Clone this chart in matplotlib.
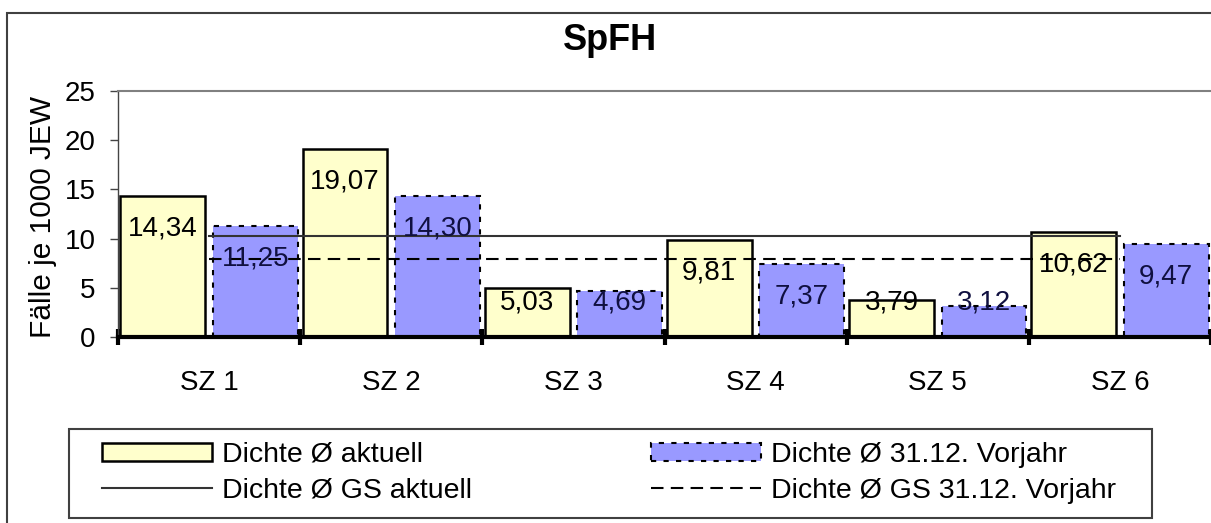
import matplotlib
matplotlib.use("Agg")
import matplotlib.pyplot as plt
from matplotlib.patches import Rectangle
from matplotlib.lines import Line2D
import numpy as np

plt.rcParams['font.family'] = ['Liberation Sans', 'DejaVu Sans']

# ---- data ----
categories = ["SZ 1", "SZ 2", "SZ 3", "SZ 4", "SZ 5", "SZ 6"]
dichte_aktuell = [14.34, 19.07, 5.03, 9.81, 3.79, 10.62]
dichte_vorjahr = [11.25, 14.30, 4.69, 7.37, 3.12, 9.47]
gs_aktuell = [10.30] * 6
gs_vorjahr = [7.92] * 6
yticks = [0, 5, 10, 15, 20, 25]
title = "SpFH"
ylabel = "Fälle je 1000 JEW"
legend_labels = ["Dichte Ø aktuell", "Dichte Ø GS aktuell",
                 "Dichte Ø 31.12. Vorjahr", "Dichte Ø GS 31.12. Vorjahr"]

W, H = 1211, 523
fig = plt.figure(figsize=(W / 100, H / 100), dpi=100)
fig.patch.set_facecolor("white")

ax = fig.add_axes([118 / W, 1 - 337 / H, 1 - 118 / W, (337 - 91) / H])

n = len(categories)
centers = np.arange(n) + 0.5
bw = 0.465
off = 0.254

yellow = "#FFFFCC"
blue = "#9999FF"

ax.bar(centers - off, dichte_aktuell, width=bw, color=yellow,
       edgecolor="black", linewidth=1.8, zorder=2)
ax.bar(centers + off, dichte_vorjahr, width=bw, color=blue,
       edgecolor="black", linewidth=1.5, linestyle=(0, (2.5, 3.5)), zorder=2)

ax.plot(centers, gs_aktuell, color="#333333", linewidth=1.5, zorder=3)
ax.plot(centers, gs_vorjahr, color="black", linewidth=1.5,
        linestyle=(0, (6, 3.5)), zorder=3)

def fmt(v):
    return f"{v:.2f}".replace(".", ",")

for x, v in zip(centers - off, dichte_aktuell):
    ax.text(x, max(v - 3.3, 3.55), fmt(v), ha="center", va="center",
            fontsize=20, color="black", zorder=4)
for x, v in zip(centers + off, dichte_vorjahr):
    ax.text(x, max(v - 3.3, 3.55), fmt(v), ha="center", va="center",
            fontsize=20, color="#101040", zorder=4)

ax.set_xlim(0, n)
ax.set_ylim(0, 25)

ax.set_yticks(yticks)
ax.set_yticklabels([str(t) for t in yticks])
ax.tick_params(axis="y", direction="out", length=6, width=1,
               color="#444444", labelsize=20, pad=10)

ax.set_xticks(np.arange(n + 1))
ax.set_xticklabels([])
ax.tick_params(axis="x", which="major", direction="inout", length=12,
               width=3, color="black")
ax.set_xticks(centers, minor=True)
ax.set_xticklabels(categories, minor=True)
ax.tick_params(axis="x", which="minor", length=0, labelsize=20, pad=24)

ax.spines["right"].set_visible(False)
ax.spines["top"].set_color("#808080")
ax.spines["top"].set_linewidth(1.5)
ax.spines["left"].set_color("#444444")
ax.spines["left"].set_linewidth(1)
ax.spines["bottom"].set_color("black")
ax.spines["bottom"].set_linewidth(3)
ax.spines["bottom"].set_zorder(5)

# title & y label
fig.text(610 / W, 1 - 41 / H, title, ha="center", va="center",
         fontsize=26, fontweight="bold")
fig.text(43 / W, 1 - 217 / H, ylabel, ha="center", va="center",
         rotation=90, fontsize=21.5)

# outer border
fig.add_artist(Rectangle((7 / W, -0.1), 1.2, (H - 13) / H + 0.1,
                         transform=fig.transFigure, fill=False,
                         edgecolor="#404040", linewidth=1.5))

# legend frame
fig.add_artist(Rectangle((69 / W, 1 - 518 / H), (1152 - 69) / W, (518 - 429) / H,
                         transform=fig.transFigure, fill=False,
                         edgecolor="#404040", linewidth=1.5))

h1 = Rectangle((0, 0), 1, 1, facecolor=yellow, edgecolor="black", linewidth=1.8)
h2 = Line2D([], [], color="#333333", linewidth=1.5)
h3 = Rectangle((0, 0), 1, 1, facecolor=blue, edgecolor="black", linewidth=1.5,
               linestyle=(0, (2.5, 3.5)))
h4 = Line2D([], [], color="black", linewidth=1.5, linestyle=(0, (6, 3.5)))

fs_leg = 20.5
fig.legend([h1, h2, h3, h4], legend_labels, ncol=2, frameon=False,
           loc="upper left", bbox_to_anchor=(102 / W, 1 - 442 / H),
           bbox_transform=fig.transFigure, borderpad=0, borderaxespad=0,
           fontsize=fs_leg, handlelength=110 / (fs_leg * 100 / 72),
           handleheight=0.64, handletextpad=0.34, columnspacing=6.3,
           labelspacing=0.34)

fig.savefig("out.png", dpi=100)
